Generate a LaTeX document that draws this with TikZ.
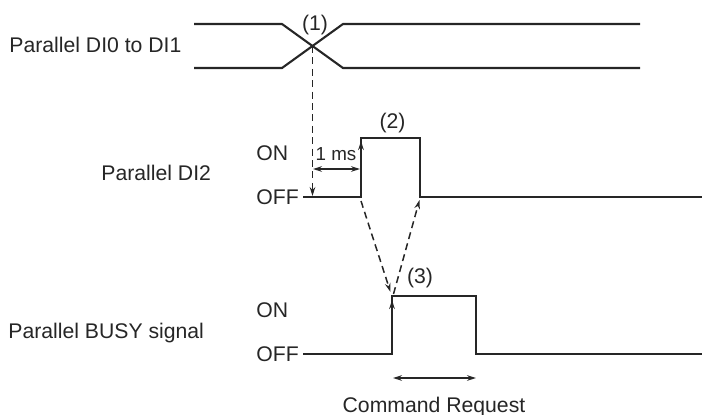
\documentclass[tikz,border=0pt]{standalone}
\usepackage{fontspec}
\setmainfont{Liberation Sans}
\usetikzlibrary{arrows.meta}
\begin{document}
\begin{tikzpicture}[x=0.5pt,y=-0.5pt,
  sig/.style={line width=1.05pt, draw=black!85, line join=miter},
  dsh/.style={line width=0.75pt, draw=black!85, dash pattern=on 3.5pt off 2.2pt},
  tip/.style={-{Stealth[length=4.5pt,width=2.8pt]}},
  dtip/.style={{Stealth[length=4.5pt,width=2.8pt]}-{Stealth[length=4.5pt,width=2.8pt]}},
  lbl/.style={font=\fontsize{10.6}{12}\selectfont, text=black!85, inner sep=0pt}]
\useasboundingbox (0,0) rectangle (702,414);
% labels
\node[lbl, anchor=base west] (l1) at (9,52.5) {Parallel DI0 to DI1};
\node[lbl, anchor=base west] (l2) at (101,180) {Parallel DI2};
\node[lbl, anchor=base west] (l3) at (8,338) {Parallel BUSY signal};
\node[lbl, anchor=base west] (on2) at (256,160) {ON};
\node[lbl, anchor=base west] (off2) at (256,204) {OFF};
\node[lbl, anchor=base west] (on3) at (256,317) {ON};
\node[lbl, anchor=base west] (off3) at (256,361) {OFF};
\node[lbl, anchor=base] (n1) at (315,30) {(1)};
\node[lbl, anchor=base] (n2) at (392.5,128) {(2)};
\node[lbl, anchor=base] (n3) at (420,283) {(3)};
\node[lbl, anchor=base, font=\fontsize{9.4}{11}\selectfont] (ms) at (336,160) {1 ms};
\node[lbl, anchor=base] (cr) at (434,412) {Command Request};
% key points
\coordinate (x1) at (312.5,46);
\coordinate (x1b) at (312.5,196);
\coordinate (r2b) at (361,197);
\coordinate (r2t) at (361,138);
\coordinate (f2t) at (420,138);
\coordinate (f2b) at (420,197);
\coordinate (r3b) at (392,354);
\coordinate (r3t) at (392,296);
\coordinate (f3t) at (476,296);
\coordinate (f3b) at (476,354);
% top bus signal
\draw[sig] (194,24) -- (282,24) -- (343,68) -- (640,68);
\draw[sig] (194,68) -- (282,68) -- (343,24) -- (640,24);
% DI2
\draw[sig] (303,197) -- (r2b) -- (r2t) -- (f2t) -- (f2b) -- (702,197);
\draw[sig, line width=0.8pt, tip] (r2b) -- (361,141);
% BUSY
\draw[sig] (303,354) -- (r3b) -- (r3t) -- (f3t) -- (f3b) -- (702,354);
\draw[sig, line width=0.8pt, tip] (r3b) -- (392,300);
% dashed
\draw[dsh, tip] (x1) -- (x1b);
\draw[dsh, tip] (361,201) -- (390.5,292);
\draw[dsh, tip] (393.5,294) -- (419.5,200);
% timing arrows
\draw[line width=0.7pt, draw=black!85, dtip] (313,169) -- (360,169);
\draw[line width=0.7pt, draw=black!85, dtip] (393,378) -- (476,378);
\end{tikzpicture}
\end{document}
